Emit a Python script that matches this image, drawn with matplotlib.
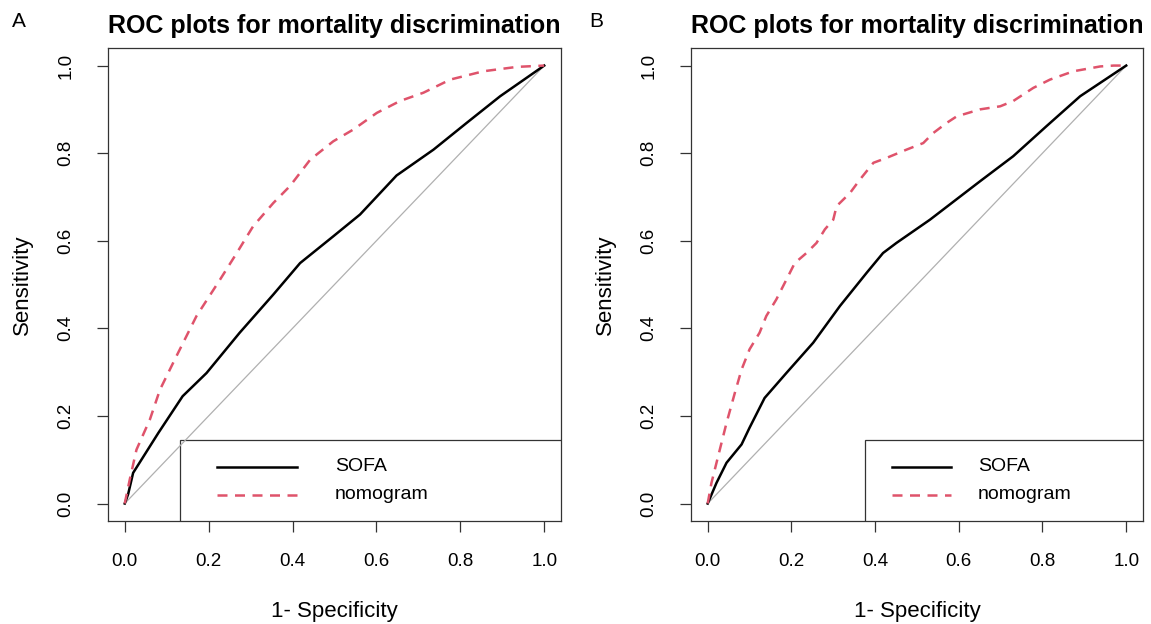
import numpy as np
import matplotlib
matplotlib.use("Agg")
import matplotlib.pyplot as plt
from matplotlib.patches import Rectangle

plt.rcParams['font.family'] = ['Liberation Sans', 'DejaVu Sans']

# ROC points, panel A
sofa_a_fpr = [0.0, 0.008, 0.020, 0.080, 0.138, 0.195, 0.274, 0.354, 0.418, 0.497,
              0.561, 0.648, 0.736, 0.815, 0.895, 1.0]
sofa_a_tpr = [0.0, 0.021, 0.070, 0.161, 0.245, 0.298, 0.390, 0.477, 0.549, 0.610,
              0.660, 0.749, 0.808, 0.869, 0.930, 1.0]
nomo_a_fpr = [0.0, 0.012, 0.028, 0.060, 0.084, 0.123, 0.171, 0.227, 0.267, 0.306,
              0.354, 0.394, 0.442, 0.497, 0.545, 0.601, 0.656, 0.712, 0.776, 0.855,
              0.935, 1.0]
nomo_a_tpr = [0.0, 0.055, 0.123, 0.192, 0.260, 0.336, 0.428, 0.511, 0.572, 0.633,
              0.686, 0.725, 0.785, 0.827, 0.854, 0.892, 0.919, 0.938, 0.968, 0.987,
              0.997, 1.0]

# panel B
sofa_b_fpr = [0.0, 0.021, 0.045, 0.081, 0.100, 0.136, 0.188, 0.252, 0.316, 0.380,
              0.419, 0.451, 0.531, 0.651, 0.730, 0.810, 0.890, 1.0]
sofa_b_tpr = [0.0, 0.047, 0.093, 0.135, 0.173, 0.241, 0.298, 0.367, 0.451, 0.527,
              0.572, 0.595, 0.648, 0.736, 0.793, 0.862, 0.930, 1.0]
nomo_b_fpr = [0.0, 0.009, 0.025, 0.045, 0.065, 0.081, 0.100, 0.124, 0.140, 0.164,
              0.188, 0.208, 0.236, 0.260, 0.280, 0.300, 0.308, 0.340, 0.364, 0.396,
              0.427, 0.475, 0.515, 0.539, 0.571, 0.595, 0.651, 0.699, 0.730, 0.778,
              0.818, 0.874, 0.938, 0.970, 1.0]
nomo_b_tpr = [0.0, 0.047, 0.108, 0.184, 0.253, 0.306, 0.352, 0.390, 0.428, 0.466,
              0.511, 0.549, 0.572, 0.595, 0.626, 0.648, 0.679, 0.709, 0.740, 0.778,
              0.789, 0.808, 0.823, 0.846, 0.869, 0.884, 0.900, 0.907, 0.919, 0.949,
              0.968, 0.987, 0.998, 1.0, 1.0]

ticks = [0.0, 0.2, 0.4, 0.6, 0.8, 1.0]
tick_labels = ["0.0", "0.2", "0.4", "0.6", "0.8", "1.0"]
legend_labels = ["SOFA", "nomogram"]
title = "ROC plots for mortality discrimination"
red = "#DF536B"

fig = plt.figure(figsize=(11.51, 6.24), dpi=100)


def roc_panel(ax, s_fpr, s_tpr, n_fpr, n_tpr, leg_left):
    ax.plot([0, 1], [0, 1], color="#b0b0b0", lw=0.9)
    ax.plot(s_fpr, s_tpr, color="black", lw=1.8)
    ax.plot(n_fpr, n_tpr, color=red, lw=1.8, ls=(0, (4, 3)))
    ax.set_xlim(-0.04, 1.04)
    ax.set_ylim(-0.04, 1.04)
    ax.set_xticks(ticks)
    ax.set_xticklabels(tick_labels, fontsize=13.5)
    ax.set_yticks(ticks)
    ax.set_yticklabels(tick_labels, fontsize=13.5, rotation=90, va="center")
    ax.tick_params(axis="x", length=8, width=0.9, pad=15, color="#333333")
    ax.tick_params(axis="y", length=8, width=0.9, pad=16, color="#333333")
    for sp in ax.spines.values():
        sp.set_linewidth(0.9)
        sp.set_color("#333333")
    ax.set_xlabel("1- Specificity", fontsize=16, labelpad=22)
    ax.set_ylabel("Sensitivity", fontsize=16, labelpad=18)
    ax.set_title(title, fontsize=18, fontweight="bold", pad=11)

    # legend box, R style, running off the bottom of the plot
    box = Rectangle((leg_left, -0.2), 1.2, 0.2 + 0.171, transform=ax.transAxes,
                    fill=False, ec="#333333", lw=0.9, clip_on=True)
    ax.add_patch(box)
    box.set_clip_path(ax.patch)
    lx0 = leg_left + (0.081 if leg_left < 0.3 else 0.06)
    lx1 = lx0 + (0.177 if leg_left < 0.3 else 0.13)
    tx = lx1 + (0.084 if leg_left < 0.3 else 0.06)
    ax.plot([lx0, lx1], [0.115, 0.115], transform=ax.transAxes, color="black", lw=1.8)
    ax.plot([lx0, lx1], [0.056, 0.056], transform=ax.transAxes, color=red, lw=1.8,
            ls=(0, (4, 3)))
    ax.text(tx, 0.115, legend_labels[0], transform=ax.transAxes, fontsize=14, va="center")
    ax.text(tx, 0.056, legend_labels[1], transform=ax.transAxes, fontsize=14, va="center")


ax_a = fig.add_axes([0.0938, 0.165, 0.3936, 0.758])
ax_b = fig.add_axes([0.6003, 0.165, 0.3927, 0.758])
roc_panel(ax_a, sofa_a_fpr, sofa_a_tpr, nomo_a_fpr, nomo_a_tpr, 0.159)
roc_panel(ax_b, sofa_b_fpr, sofa_b_tpr, nomo_b_fpr, nomo_b_tpr, 0.385)

fig.text(0.010, 0.965, "A", fontsize=15, va="center")
fig.text(0.512, 0.965, "B", fontsize=15, va="center")

fig.savefig("out.png", dpi=100)
